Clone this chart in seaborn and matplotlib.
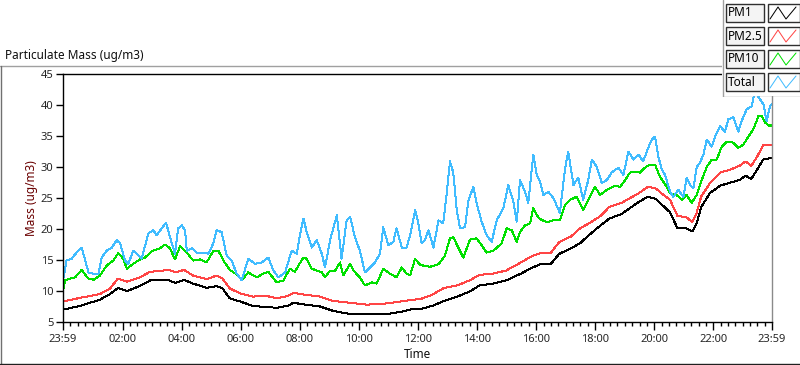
#!/usr/bin/env python3
import matplotlib
matplotlib.use("Agg")
import numpy as np
import pandas as pd
import matplotlib.pyplot as plt
import seaborn as sns
from matplotlib.patches import Rectangle

# hours after 23:59 for the two smooth series
hours_smooth = [0, 0.58, 1.25, 1.59, 1.86, 2.17, 2.6, 2.95, 3.6, 3.8, 4.1, 4.4, 4.87, 5.2, 5.4,
                5.65, 6.0, 6.43, 6.9, 7.24, 7.6, 7.8, 8.2, 8.7, 9.14, 9.7, 10.3, 10.97, 11.4,
                11.85, 12.1, 12.5, 12.9, 13.35, 13.8, 14.1, 14.55, 15.0, 15.5, 15.9, 16.15,
                16.5, 16.8, 17.2, 17.5, 17.8, 18.2, 18.5, 18.9, 19.2, 19.5, 19.8, 20.05, 20.3,
                20.55, 20.8, 21.1, 21.3, 21.45, 21.6, 21.9, 22.25, 22.6, 22.9, 23.1, 23.3,
                23.5, 23.7, 24.0]
pm1 = [7.0, 7.6, 8.6, 9.5, 10.5, 10.0, 10.8, 11.7, 11.7, 11.3, 11.8, 11.2, 10.5, 10.8, 10.4,
       8.8, 8.3, 7.6, 7.4, 7.3, 7.6, 8.1, 7.8, 7.5, 6.8, 6.3, 6.3, 6.3, 6.6,
       7.1, 7.1, 7.6, 8.4, 9.1, 10.0, 10.9, 11.2, 11.7, 12.8, 13.8, 14.3,
       14.3, 16.0, 16.9, 17.7, 19.0, 20.6, 21.7, 22.4, 23.4, 24.4, 25.2, 24.9, 23.8,
       22.7, 20.1, 20.1, 19.6, 20.9, 23.5, 25.8, 27.0, 27.5, 27.9, 28.6, 28.1,
       29.6, 31.2, 31.5]
pm25 = [8.3, 8.9, 9.5, 10.4, 12.0, 11.5, 12.2, 13.1, 13.4, 13.0, 13.4, 12.5, 11.9, 12.5, 12.0,
        10.4, 9.6, 9.1, 9.2, 8.8, 9.2, 9.7, 9.4, 9.1, 8.4, 8.1, 7.8, 8.0, 8.3,
        8.6, 8.7, 9.4, 10.5, 10.9, 11.8, 12.6, 12.8, 13.3, 14.6, 15.7, 16.1,
        16.1, 17.9, 18.8, 20.1, 20.9, 22.1, 23.6, 24.2, 25.0, 25.8, 26.8, 26.6, 25.6,
        24.7, 22.1, 21.9, 21.1, 22.6, 25.2, 27.4, 29.1, 29.6, 30.2, 30.9, 30.2,
        31.7, 33.5, 33.6]

hours_pm10 = [0, 0.07, 0.24, 0.41, 0.63, 0.86, 1.03, 1.25, 1.48, 1.7, 1.87, 2.04, 2.16, 2.38,
              2.61, 2.78, 3.0, 3.28, 3.45, 3.62, 3.79, 3.96, 4.19, 4.41, 4.64, 4.86, 5.09,
              5.26, 5.43, 5.65, 5.93, 6.05, 6.27, 6.56, 6.78, 6.95, 7.23, 7.46, 7.68, 7.85,
              8.02, 8.14, 8.25, 8.42, 8.59, 8.76, 8.87, 9.04, 9.21, 9.38, 9.49, 9.72, 9.83,
              10.05, 10.22, 10.45, 10.62, 10.84, 11.07, 11.29, 11.47, 11.63, 11.75, 11.92,
              12.09, 12.42, 12.71, 12.93, 13.1, 13.21, 13.38, 13.55, 13.78, 14.0, 14.17,
              14.34, 14.57, 14.85, 15.02, 15.19, 15.36, 15.47, 15.64, 15.81, 15.92, 16.04,
              16.15, 16.37, 16.6, 16.82, 16.99, 17.16, 17.39, 17.61, 17.78, 18.01, 18.18,
              18.41, 18.69, 18.86, 19.03, 19.19, 19.36, 19.53, 19.7, 19.87, 20.04, 20.21,
              20.38, 20.55, 20.77, 20.94, 21.11, 21.28, 21.45, 21.62, 21.79, 21.96, 22.13,
              22.3, 22.47, 22.64, 22.86, 23.03, 23.2, 23.37, 23.54, 23.65, 23.76, 23.93, 24.0]
pm10 = [10.0, 11.7, 12.0, 12.2, 13.4, 12.0, 11.8, 12.5, 14.1, 14.9, 16.1, 15.2, 13.6, 14.4,
        15.1, 15.4, 16.4, 16.9, 17.5, 16.9, 15.1, 17.2, 16.2, 14.9, 15.1, 14.6, 16.5,
        16.5, 14.9, 13.4, 12.5, 11.7, 13.0, 12.2, 12.8, 13.1, 11.4, 11.7, 13.6, 13.1,
        14.5, 15.4, 15.2, 13.6, 13.3, 13.0, 12.2, 13.3, 13.3, 14.6, 12.5, 14.4, 13.3,
        12.2, 10.9, 11.4, 11.2, 13.6, 12.8, 12.2, 13.8, 12.8, 12.5, 15.2,
        14.2, 13.9, 14.3, 15.7, 18.5, 18.7, 17.0, 15.4, 18.3, 18.5, 17.4,
        16.2, 16.5, 17.7, 20.1, 19.8, 17.9, 19.5, 20.6, 20.9, 23.4, 22.2,
        21.6, 21.1, 21.4, 21.4, 23.9, 24.7, 25.2, 23.0, 24.7, 26.8, 25.5,
        26.3, 27.0, 26.8, 27.9, 29.1, 29.2, 29.1, 29.9, 30.4, 30.4, 28.4,
        27.2, 25.8, 25.5, 24.7, 25.5, 24.2, 25.5, 27.9, 30.0, 31.2, 31.2,
        33.3, 34.1, 34.1, 33.1, 33.6, 34.9, 36.1, 38.2, 38.2, 37.2, 36.6, 36.8]

hours_total = [0, 0.12, 0.29, 0.46, 0.63, 0.74, 0.86, 1.03, 1.2, 1.31, 1.48, 1.65, 1.82, 1.93,
               2.1, 2.21, 2.38, 2.49, 2.66, 2.89, 3.06, 3.17, 3.34, 3.49, 3.62, 3.79, 3.9,
               4.02, 4.13, 4.19, 4.36, 4.53, 4.75, 4.92, 5.09, 5.2, 5.37, 5.54, 5.71, 5.88,
               6.05, 6.27, 6.5, 6.73, 6.95, 7.12, 7.29, 7.52, 7.74, 7.91, 8.02, 8.14, 8.25,
               8.42, 8.59, 8.76, 8.87, 9.04, 9.27, 9.43, 9.6, 9.72, 9.88, 10.05, 10.22, 10.39,
               10.56, 10.73, 10.84, 11.01, 11.18, 11.29, 11.47, 11.63, 11.75, 11.92, 12.03,
               12.14, 12.25, 12.37, 12.54, 12.71, 12.87, 12.99, 13.1, 13.21, 13.33, 13.44,
               13.61, 13.72, 13.89, 14.0, 14.17, 14.34, 14.51, 14.68, 14.91, 15.07, 15.24,
               15.36, 15.47, 15.64, 15.75, 15.92, 16.04, 16.15, 16.26, 16.43, 16.6, 16.82,
               16.99, 17.1, 17.28, 17.44, 17.61, 17.78, 17.9, 18.07, 18.24, 18.41, 18.57,
               18.8, 18.97, 19.14, 19.31, 19.48, 19.64, 19.81, 19.93, 20.04, 20.15, 20.27,
               20.38, 20.55, 20.66, 20.83, 21.0, 21.11, 21.23, 21.34, 21.45, 21.56, 21.68,
               21.79, 21.96, 22.07, 22.24, 22.41, 22.52, 22.69, 22.86, 22.97, 23.14, 23.31,
               23.42, 23.54, 23.71, 23.82, 23.93, 24.0]
total = [11.7, 14.9, 15.2, 16.2, 17.0, 15.2, 13.0, 12.8, 12.8, 15.4, 16.5, 17.0, 18.2, 17.7,
         14.9, 14.4, 16.5, 16.0, 15.2, 19.3, 19.8, 19.0, 20.1, 21.0, 18.7, 16.0, 20.1,
         20.6, 19.8, 16.5, 16.9, 16.2, 16.2, 16.0, 17.7, 19.8, 19.5, 15.7, 14.9, 12.8,
         11.7, 15.2, 14.4, 14.6, 15.4, 13.3, 12.2, 13.0, 16.5, 16.0, 19.0, 21.7, 19.5,
         17.0, 18.2, 16.0, 13.8, 18.2, 22.2, 15.2, 21.4, 22.0, 18.7, 16.5, 13.0, 13.8,
         14.6, 16.0, 20.3, 17.4, 17.9, 20.1, 17.0, 17.0, 19.0, 23.0, 20.9,
         17.7, 18.2, 19.8, 17.0, 21.4, 20.9, 25.8, 30.9, 29.1, 23.0, 20.1,
         20.3, 24.5, 26.8, 24.2, 21.2, 19.0, 17.9, 21.4, 23.4, 27.1, 24.5,
         21.2, 27.9, 26.0, 24.2, 32.0, 28.7, 27.6, 25.5, 26.0, 25.0, 22.6,
         29.6, 32.5, 27.1, 28.3, 24.7, 27.9, 31.2, 30.0, 27.4, 27.9, 29.1,
         29.9, 28.7, 32.5, 31.2, 32.0, 30.9, 33.1, 34.4, 34.9, 31.7, 29.6,
         28.7, 26.0, 25.2, 26.3, 25.2, 28.3, 27.1, 26.6, 30.0, 30.7, 32.0,
         34.4, 33.3, 34.9, 36.6, 35.7, 37.7, 38.0, 35.7, 37.4, 39.3, 39.8,
         42.2, 41.3, 40.1, 37.4, 39.8, 40.2]

series_names = ["PM1", "PM2.5", "PM10", "Total"]
series_colors = ["#000000", "#ff4545", "#00e000", "#40bcff"]
tick_labels = ["23:59", "02:00", "04:00", "06:00", "08:00", "10:00", "12:00",
               "14:00", "16:00", "18:00", "20:00", "22:00", "23:59"]

sns.set_theme(style="white")
plt.rcParams["font.family"] = ["Noto Sans", "DejaVu Sans"]

df = pd.concat([
    pd.DataFrame({"hours": hours_smooth, "mass": pm1, "series": "PM1"}),
    pd.DataFrame({"hours": hours_smooth, "mass": pm25, "series": "PM2.5"}),
    pd.DataFrame({"hours": hours_pm10, "mass": pm10, "series": "PM10"}),
    pd.DataFrame({"hours": hours_total, "mass": total, "series": "Total"}),
], ignore_index=True)

W, H = 800, 365
fig = plt.figure(figsize=(8, 3.65), dpi=100)
fig.patch.set_facecolor("white")

# frame lines around the graph panel (pixel coords)
frame = fig.add_axes([0, 0, 1, 1])
frame.set_xlim(0, W)
frame.set_ylim(H, 0)
frame.axis("off")
frame.plot([0, 722], [65.5, 65.5], color="#a0a0a0", lw=1)
frame.plot([0.5, 0.5], [65.5, 363.5], color="#707070", lw=1)
frame.plot([0, W], [363.5, 363.5], color="#202020", lw=1)

x0, x1, y0, y1 = 63, 772, 74, 322
ax = fig.add_axes([x0 / W, 1 - y1 / H, (x1 - x0) / W, (y1 - y0) / H])
sns.lineplot(data=df, x="hours", y="mass", hue="series",
             palette=dict(zip(series_names, series_colors)),
             estimator=None, sort=False, legend=False, linewidth=0.72,
             antialiased=False, ax=ax)

ax.set_xlim(0, 24)
ax.set_ylim(5, 45)
major = [0] + [h + 1 / 60 for h in range(2, 24, 2)] + [24]
minor = np.concatenate([np.linspace(a, b, 9)[1:-1] for a, b in zip(major[:-1], major[1:])])
ax.set_xticks(major)
ax.set_xticklabels(tick_labels)
ax.set_xticks(minor, minor=True)
ax.set_yticks(range(5, 50, 5))
ax.tick_params(axis="x", which="major", direction="out", length=6, width=1, color="black",
               labelsize=8, pad=3, bottom=True)
ax.tick_params(axis="x", which="minor", direction="out", length=3, width=1, color="black",
               bottom=True)
ax.tick_params(axis="y", which="major", direction="out", length=5, width=1, color="black",
               labelsize=8, pad=2, left=True)
for side in ["left", "bottom", "top"]:
    ax.spines[side].set_color("black")
    ax.spines[side].set_linewidth(1)
ax.spines["right"].set_color("#8a8a8a")
ax.spines["right"].set_linewidth(1)
ax.set_xlabel("Time", fontsize=8.5, labelpad=2, color="#101010")
ax.set_ylabel("Mass (ug/m3)", fontsize=8.5, labelpad=2, color="#6a0000")
ax.grid(False)

fig.text(5 / W, 1 - 55 / H, "Particulate Mass (ug/m3)", fontsize=8.5, va="center",
         ha="left", color="#101010")

# legend panel in the top-right corner
leg = fig.add_axes([722 / W, 1 - 97 / H, 78 / W, 97 / H])
leg.set_xlim(722, 800)
leg.set_ylim(97, 0)
leg.axis("off")
leg.add_patch(Rectangle((722, 0), 78, 96, facecolor="white", edgecolor="none"))
leg.plot([722.5, 722.5], [0, 96.5], color="#a0a0a0", lw=1)
leg.plot([722.5, 800], [96.5, 96.5], color="#a0a0a0", lw=1)
box_tops = [4, 27, 50, 73]
for name, color, top in zip(series_names, series_colors, box_tops):
    leg.add_patch(Rectangle((725.5, top), 38, 18, facecolor="#f4f4f4",
                            edgecolor="#303030", lw=1))
    leg.text(728, top + 9, name, fontsize=8.5, va="center", ha="left", color="black")
    leg.add_patch(Rectangle((767.5, top), 32, 18, facecolor="white",
                            edgecolor="#303030", lw=1))
    zx = [770, 778, 786, 796]
    zy = [top + 15, top + 3, top + 15, top + 3]
    leg.plot(zx, zy, color=color, lw=0.72)

fig.savefig("out.png", dpi=100, facecolor="white")
